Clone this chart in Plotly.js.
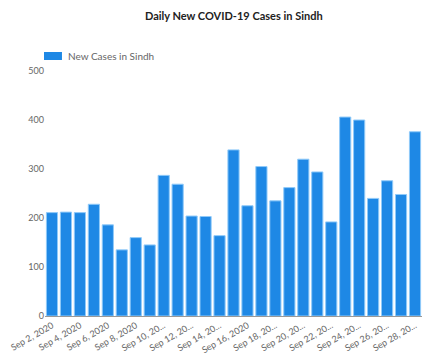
<!DOCTYPE html>
<html>
<head>
<meta charset="utf-8">
<script src="https://cdn.plot.ly/plotly-3.0.1.min.js"></script>
<style>html,body{margin:0;padding:0;background:#fff;}#chart{width:437px;height:362px;}</style>
</head>
<body>
<div id="chart"></div>
<script>
const dates = ["Sep 2, 2020","Sep 3, 2020","Sep 4, 2020","Sep 5, 2020","Sep 6, 2020","Sep 7, 2020","Sep 8, 2020","Sep 9, 2020","Sep 10, 2020","Sep 11, 2020","Sep 12, 2020","Sep 13, 2020","Sep 14, 2020","Sep 15, 2020","Sep 16, 2020","Sep 17, 2020","Sep 18, 2020","Sep 19, 2020","Sep 20, 2020","Sep 21, 2020","Sep 22, 2020","Sep 23, 2020","Sep 24, 2020","Sep 25, 2020","Sep 26, 2020","Sep 27, 2020","Sep 28, 2020"];
const newCases = [211, 212, 211, 228, 186, 135, 160, 145, 287, 269, 204, 203, 164, 339, 225, 305, 235, 262, 320, 294, 192, 406, 400, 240, 276, 248, 376];
const tickValues = ["Sep 2, 2020","Sep 4, 2020","Sep 6, 2020","Sep 8, 2020","Sep 10, 2020","Sep 12, 2020","Sep 14, 2020","Sep 16, 2020","Sep 18, 2020","Sep 20, 2020","Sep 22, 2020","Sep 24, 2020","Sep 26, 2020","Sep 28, 2020"];
const tickLabels = ["Sep 2, 2020","Sep 4, 2020","Sep 6, 2020","Sep 8, 2020","Sep 10, 20...","Sep 12, 20...","Sep 14, 20...","Sep 16, 2020","Sep 18, 20...","Sep 20, 20...","Sep 22, 20...","Sep 24, 20...","Sep 26, 20...","Sep 28, 20..."];
const yTicks = [0, 100, 200, 300, 400, 500];
const seriesName = "New Cases in Sindh";
const chartTitle = "Daily New COVID-19 Cases in Sindh";
const barColor = "#1E88E5";

const trace = {
  type: "bar",
  x: dates,
  y: newCases,
  name: seriesName,
  marker: {color: barColor, line: {color: "#90CAF9", width: 1}},
  showlegend: false
};
const layout = {
  width: 437, height: 362,
  margin: {l: 45, r: 15, t: 71, b: 46},
  paper_bgcolor: "#fff", plot_bgcolor: "#fff",
  font: {family: "Lato, 'Open Sans', sans-serif", size: 9, color: "#666"},
  title: {text: chartTitle, x: 0.535, xanchor: "center", y: 0.955, yanchor: "middle",
          font: {family: "Lato, sans-serif", size: 11, color: "#222", weight: "bold"}},
  showlegend: false,
  shapes: [{type: "rect", xref: "paper", yref: "paper",
            x0: -0.0027, x1: 0.045, y0: 1.0449, y1: 1.0776,
            fillcolor: barColor, line: {width: 0}}],
  annotations: [{text: seriesName, xref: "paper", yref: "paper", x: 0.0557, y: 1.061,
                 xanchor: "left", yanchor: "middle", showarrow: false,
                 font: {size: 10, color: "#666"}}],
  bargap: 0.2,
  xaxis: {type: "category", tickmode: "array", tickvals: tickValues, ticktext: tickLabels,
          tickangle: -30, showline: true, linecolor: "#999", linewidth: 1, showgrid: false,
          ticks: "", tickfont: {size: 9, color: "#666"}, automargin: false},
  yaxis: {range: [0, 500], tickvals: yTicks, showgrid: false, zeroline: false,
          showline: false, ticks: "", tickfont: {size: 9, color: "#666"}, automargin: false}
};
Plotly.newPlot("chart", [trace], layout, {displayModeBar: false, staticPlot: true});
</script>
</body>
</html>
